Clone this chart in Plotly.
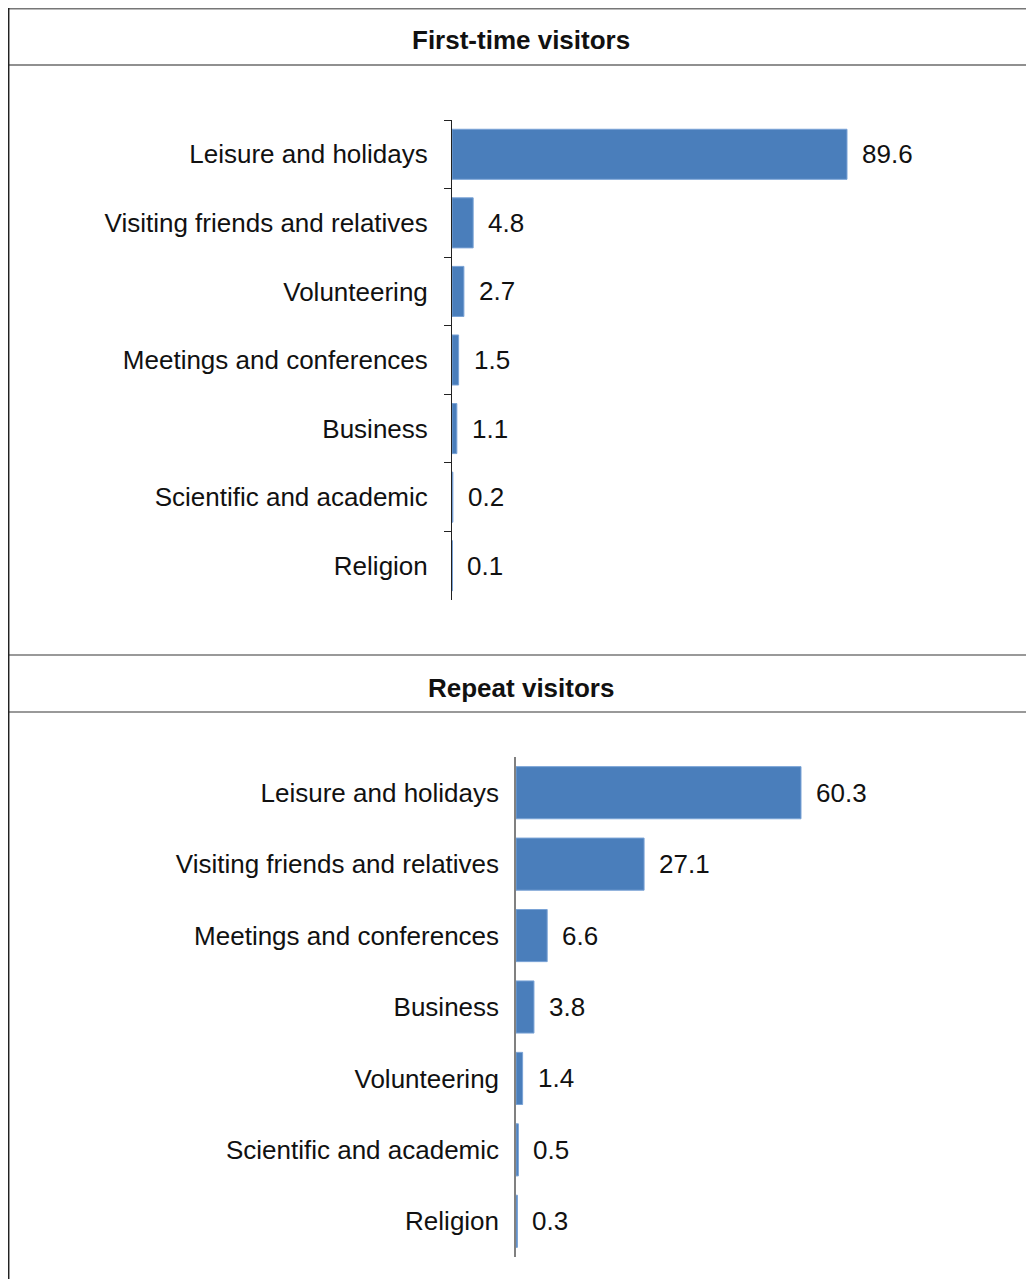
import plotly.graph_objects as go

# page body has an 8px margin, so the figure is sized to fit inside the window
OFF = 8
W, H = 1034 - 2 * OFF, 1287 - 2 * OFF

first_cats = ["Leisure and holidays", "Visiting friends and relatives", "Volunteering",
              "Meetings and conferences", "Business", "Scientific and academic", "Religion"]
first_vals = [89.6, 4.8, 2.7, 1.5, 1.1, 0.2, 0.1]

repeat_cats = ["Leisure and holidays", "Visiting friends and relatives", "Meetings and conferences",
               "Business", "Volunteering", "Scientific and academic", "Religion"]
repeat_vals = [60.3, 27.1, 6.6, 3.8, 1.4, 0.5, 0.3]

titles = ["First-time visitors", "Repeat visitors"]

BAR = "#4a7ebb"
FONT = "Liberation Sans, Arial, sans-serif"
FS = 26


def px(x):
    """page x pixel -> paper coordinate"""
    return min(max((x - OFF) / W, 0), 1)


def py(y):
    """page y pixel (from top) -> paper coordinate"""
    return min(max(1 - (y - OFF) / H, 0), 1)


fig = go.Figure()
fig.add_trace(go.Bar(x=first_vals, y=first_cats, orientation="h",
                     marker={"color": BAR, "line": {"color": "#7aa3d6", "width": 1}},
                     xaxis="x", yaxis="y", hoverinfo="x+y"))
fig.add_trace(go.Bar(x=repeat_vals, y=repeat_cats, orientation="h",
                     marker={"color": BAR, "line": {"color": "#7aa3d6", "width": 1}},
                     xaxis="x2", yaxis="y2", hoverinfo="x+y"))

# value labels next to bar ends
annotations = []
for vals, cats, xa, ya in [(first_vals, first_cats, "x", "y"),
                           (repeat_vals, repeat_cats, "x2", "y2")]:
    for v, c in zip(vals, cats):
        annotations.append(dict(x=v, y=c, xref=xa, yref=ya, text=f"{v:.1f}",
                                showarrow=False, xanchor="left", yanchor="middle", xshift=13,
                                font={"size": FS, "color": "#111", "family": FONT}))

# panel headers
for title, ty in zip(titles, [40, 688]):
    annotations.append(dict(x=px(521), y=py(ty), xref="paper", yref="paper",
                            text=f"<b>{title}</b>", showarrow=False,
                            xanchor="center", yanchor="middle",
                            font={"size": FS, "color": "#111", "family": FONT}))

shapes = [
    dict(type="line", xref="paper", yref="paper", x0=0, x1=1, y0=1 - 0.7 / H, y1=1 - 0.7 / H,
         line={"color": "#777", "width": 1.5}),
    dict(type="line", xref="paper", yref="paper", x0=0, x1=1, y0=py(65), y1=py(65),
         line={"color": "#222", "width": 1.2}),
    dict(type="line", xref="paper", yref="paper", x0=0, x1=1, y0=py(655), y1=py(655),
         line={"color": "#777", "width": 1.5}),
    dict(type="line", xref="paper", yref="paper", x0=0, x1=1, y0=py(712), y1=py(712),
         line={"color": "#777", "width": 1.5}),
    dict(type="line", xref="paper", yref="paper", x0=0.7 / W, x1=0.7 / W, y0=1, y1=0,
         line={"color": "#222", "width": 1.5}),
]

fig.update_layout(
    width=W, height=H,
    margin={"l": 0, "r": 0, "t": 0, "b": 0},
    paper_bgcolor="white", plot_bgcolor="white",
    showlegend=False, bargap=0.27,
    font={"family": FONT, "size": FS, "color": "#111"},
    annotations=annotations, shapes=shapes,
    xaxis={"domain": [px(452), 1], "range": [0, (W + OFF - 452) / (395 / 89.6)],
           "visible": False, "fixedrange": True},
    yaxis={"domain": [py(600), py(120)], "autorange": "reversed", "type": "category",
           "showline": True, "linecolor": "#222", "linewidth": 1,
           "ticks": "outside", "tickson": "boundaries", "ticklen": 7, "tickcolor": "#222",
           "tickfont": {"size": FS}, "ticklabelstandoff": 18, "showgrid": False},
    xaxis2={"domain": [px(516), 1], "range": [0, (W + OFF - 516) / (285 / 60.3)],
            "visible": False, "fixedrange": True, "anchor": "y2"},
    yaxis2={"domain": [py(1257), py(757)], "autorange": "reversed", "type": "category",
            "anchor": "x2", "showline": True, "linecolor": "#808080", "linewidth": 1.5,
            "ticks": "", "tickfont": {"size": FS}, "ticklabelstandoff": 10, "showgrid": False},
)

fig.write_html("out.html")
